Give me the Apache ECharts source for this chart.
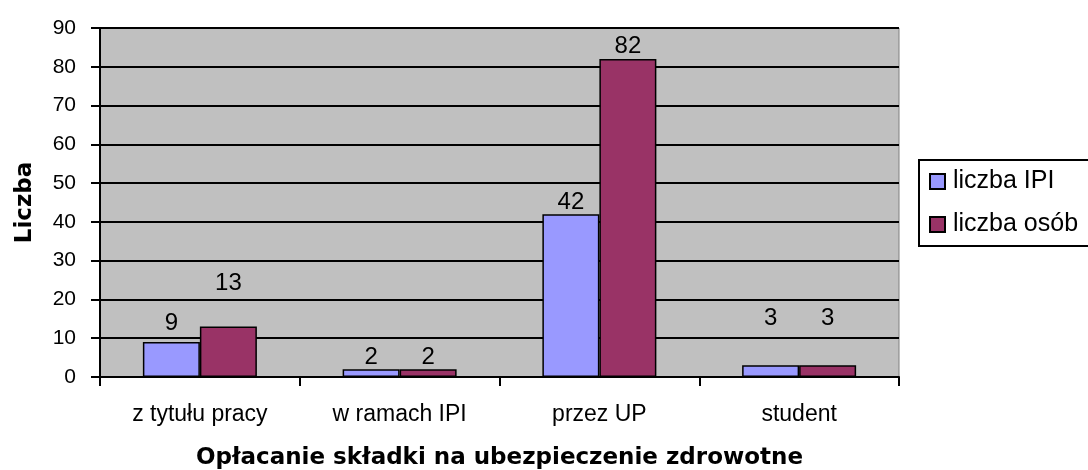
<!DOCTYPE html>
<html>
<head>
<meta charset="utf-8">
<script src="https://cdn.jsdelivr.net/npm/echarts@6/dist/echarts.min.js"></script>
<style>
  html, body { margin: 0; padding: 0; background: #fff; }
  #chart { width: 1088px; height: 470px; }
</style>
</head>
<body>
<div id="chart"></div>
<script>
  // dane
  var categories = ["z tytułu pracy", "w ramach IPI", "przez UP", "student"];
  var liczbaIPI = [9, 2, 42, 3];
  var liczbaOsob = [13, 2, 82, 3];
  var seriesNames = ["liczba IPI", "liczba osób"];

  // przesunięcia etykiet jak w oryginale (Excel ustawił je ręcznie)
  var liftIPI = [-7, 0, 0, -35];
  var liftOsob = [-31, 0, -1, -35];

  var FONT = "Liberation Sans, Arial, sans-serif";
  var TITLE_FONT = "DejaVu Sans, sans-serif";   // szerszy krój, jak rozstrzelony Arial z Excela

  function withLabels(vals, lift) {
    return vals.map(function (v, i) {
      return { value: v, label: { offset: [0, lift[i]] } };
    });
  }

  var chart = echarts.init(document.getElementById("chart"), null, { renderer: "canvas" });
  chart.setOption({
    backgroundColor: "#ffffff",
    animation: false,
    textStyle: { fontFamily: FONT, color: "#000" },
    grid: {
      left: 100, right: 189, top: 28, bottom: 93,
      outerBoundsMode: "none",
      containLabel: false,
      show: true, backgroundColor: "#C0C0C0",
      borderColor: "#808080", borderWidth: 1
    },
    legend: {
      orient: "vertical",
      left: 919, top: 160,
      padding: [9, 40, 9, 10],
      itemGap: 18,
      itemWidth: 15, itemHeight: 15,
      icon: "rect",
      borderColor: "#000", borderWidth: 2,
      backgroundColor: "#fff",
      textStyle: { fontFamily: FONT, fontSize: 25, color: "#000", padding: [0, 0, 0, 3] },
      data: seriesNames
    },
    xAxis: {
      type: "category",
      data: categories,
      name: "Opłacanie składki na ubezpieczenie zdrowotne",
      nameLocation: "middle",
      nameGap: 70,
      nameTextStyle: { fontFamily: TITLE_FONT, fontSize: 23, fontWeight: "bold", color: "#000" },
      axisLine: { lineStyle: { color: "#000", width: 2 } },
      axisTick: { show: true, length: 9, lineStyle: { color: "#000", width: 2 } },
      axisLabel: { fontFamily: FONT, fontSize: 23, color: "#000", margin: 26 }
    },
    yAxis: {
      type: "value",
      min: 0, max: 90, interval: 10,
      name: "Liczba",
      nameLocation: "middle",
      nameGap: 63,
      nameRotate: 90,
      nameTextStyle: { fontFamily: TITLE_FONT, fontSize: 23, fontWeight: "bold", color: "#000" },
      axisLine: { show: true, lineStyle: { color: "#000", width: 2 } },
      axisTick: { show: true, length: 9, lineStyle: { color: "#000", width: 2 } },
      axisLabel: { fontFamily: FONT, fontSize: 21, color: "#000", margin: 24 },
      splitLine: { show: true, lineStyle: { color: "#000", width: 2 } }
    },
    series: [
      {
        name: seriesNames[0],
        type: "bar",
        data: withLabels(liczbaIPI, liftIPI),
        barWidth: 57,
        barGap: "0%",
        itemStyle: { color: "#9999FF", borderColor: "#000", borderWidth: 1.5 },
        label: { show: true, position: "top", distance: 0, fontFamily: FONT, fontSize: 24, color: "#000" }
      },
      {
        name: seriesNames[1],
        type: "bar",
        data: withLabels(liczbaOsob, liftOsob),
        barWidth: 57,
        barGap: "0%",
        itemStyle: { color: "#993366", borderColor: "#000", borderWidth: 1.5 },
        label: { show: true, position: "top", distance: 0, fontFamily: FONT, fontSize: 24, color: "#000" }
      }
    ]
  });
</script>
</body>
</html>
